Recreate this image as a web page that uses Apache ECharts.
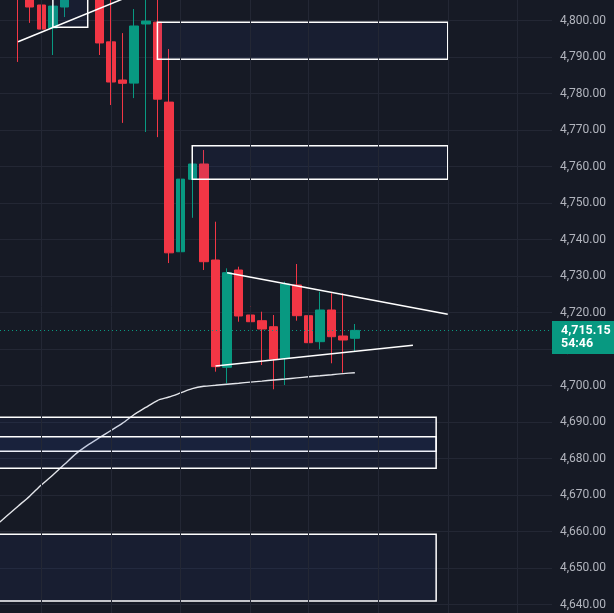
<!DOCTYPE html>
<html><head><meta charset="utf-8">
<script src="https://cdn.jsdelivr.net/npm/echarts@6/dist/echarts.min.js"></script>
<style>html,body{margin:0;padding:0;background:#161a25;overflow:hidden}#c{width:614px;height:613px}</style>
</head><body><div id="c"></div>
<script>
// ---- data (bar slots 0..48; candles occupy 2..31) ----
const slots = ['0','1','2','3','4','5','6','7','8','9','10','11','12','13','14','15','16','17','18','19','20','21','22','23','24','25','26','27','28','29','30','31','32','33','34','35','36','37','38','39','40','41','42','43','44','45','46','47','48'];
const opens  = ['-','-',4809.0,4807.5,4804.3,4798.0,4803.75,'-','-',4807.0,4794.2,4783.75,4782.9,4799.1,4799.6,4777.7,4736.7,4756.55,4760.74,4734.44,4705.04,4731.7,4719.37,4717.81,4716.16,4707.51,4727.59,4719.18,4712.06,4720.74,4713.62,4712.99];
const closes = ['-','-',4806.5,4803.75,4797.7,4804.0,4807.0,'-','-',4793.9,4783.2,4782.85,4798.55,4799.9,4778.5,4736.4,4756.6,4760.74,4733.97,4705.21,4730.96,4719.1,4717.53,4715.53,4707.32,4727.86,4719.18,4711.78,4720.74,4713.42,4712.52,4715.15];
const lows   = ['-','-',4788.7,4799.4,4796.1,4790.6,4801.0,'-','-',4790.6,4776.9,4772.0,4778.8,4769.5,4768.1,4733.6,4734.4,4746.0,4731.7,4703.84,4700.66,4717.53,4704.77,4705.67,4699.02,4700.19,4717.81,4705.67,4709.98,4706.14,4703.57,4709.32];
const highs  = ['-','-',4811.0,4809.0,4806.5,4804.5,4808.0,'-','-',4808.0,4807.0,4796.6,4803.2,4807.0,4807.0,4792.25,4763.5,4761.0,4764.57,4744.93,4732.16,4732.6,4731.5,4720.27,4719.37,4728.49,4733.34,4720.46,4725.75,4725.31,4725.31,4716.9];
const maLine = [4661.42,4664.25,4666.99,4669.73,4672.8,4675.53,4678.46,4681.4,4683.72,4685.75,4687.72,4689.73,4692.11,4694.05,4695.94,4696.9,4698.03,4699.18,4699.84,4700.11,4700.41,4700.69,4700.99,4701.26,4701.56,4701.84,4702.14,4702.44,4702.71,4703.01,4703.32,4703.56];
const lastPrice = 4715.15;
const timeLeft = '54:46';
const priceTicks = {min: 4630, max: 4810, step: 10};
// drawings: [slotA, priceA, slotB, priceB]
const trendLines = [[2,4794.25,12,4807.23],[20,4730.96,39,4719.56],[19,4705.4,36,4711.07]];
const zones = [[14,4799.56,39,4789.42],[5,4812.0,8,4798.19],[17,4765.75,39,4756.55],[0,4691.34,38,4682.03],[0,4686.03,38,4677.37],[0,4659.29,38,4641.01]];
const timeGridSlots = [4,10,16,22,27,33,39,45];

// ---- chart ----
const fmt = v => v.toLocaleString('en-US',{minimumFractionDigits:2, maximumFractionDigits:2});
const candles = opens.map((o,i)=> o==='-' ? '-' : [o, closes[i], lows[i], highs[i]]);
const chart = echarts.init(document.getElementById('c'), null, {renderer:'canvas'});
const UP = '#089981', DN = '#F23645', GRID = '#232734';
const option = {
  backgroundColor: '#161a25',
  animation: false,
  grid: [
    {left: 0, width: 552, top: -15.8, height: 657, outerBoundsMode:'none', containLabel:false},
    {left: -11.0, width: 569.1, top: -15.8, height: 657, outerBoundsMode:'none', containLabel:false}
  ],
  xAxis: [
    {type:'category', gridIndex:0, data: slots, show:false},
    {type:'category', gridIndex:1, data: slots, show:false}
  ],
  yAxis: [
    {type:'value', gridIndex:0, position:'right', min: priceTicks.min, max: priceTicks.max, interval: priceTicks.step,
     axisLine:{show:false}, axisTick:{show:false},
     splitLine:{show:true, lineStyle:{color:GRID, width:1}},
     axisLabel:{show:true, margin:8, color:'#b2b5be', fontSize:12, fontFamily:'Roboto', formatter: v=>fmt(v)}},
    {type:'value', gridIndex:1, min: priceTicks.min, max: priceTicks.max, show:false, splitLine:{show:false}}
  ],
  series: [
    {type:'line', xAxisIndex:1, yAxisIndex:1, data: [], silent:true, z:1,
     markLine:{silent:true, symbol:'none', animation:false, label:{show:false},
       lineStyle:{color:GRID, width:1, type:'solid'},
       data: timeGridSlots.map(s=>({xAxis: s}))}},
    {type:'candlestick', xAxisIndex:1, yAxisIndex:1, data: candles, barWidth: 9, z:2,
     itemStyle:{color:UP, color0:DN, borderColor:UP, borderColor0:DN, borderWidth:1}},
    {type:'line', xAxisIndex:1, yAxisIndex:1, data: maLine, smooth:0.25, symbol:'none', z:3,
     lineStyle:{color:'#e3e5ea', width:1.4},
     markArea:{silent:true, z:4, itemStyle:{color:'rgba(45,85,190,0.085)', borderColor:'#ffffff', borderWidth:1.5},
       data: zones.map(z=>[{coord:[z[0], z[1]]},{coord:[z[2], z[3]]}])},
     markLine:{silent:true, symbol:'none', z:5, label:{show:false},
       lineStyle:{color:'#ffffff', width:1.5, type:'solid'},
       data: trendLines.map(t=>[{coord:[t[0], t[1]]},{coord:[t[2], t[3]]}])}},
    {type:'line', xAxisIndex:0, yAxisIndex:0, data: [], silent:true, z:6,
     markLine:{silent:true, symbol:'none', z:6,
       lineStyle:{color:UP, width:1, type:[1,3]},
       label:{show:true, position:'end', distance:0, offset:[0,7],
         formatter: ()=> fmt(lastPrice)+'\n'+timeLeft,
         color:'#ffffff', fontWeight:'bold', fontSize:12.5, fontFamily:'Roboto', lineHeight:13,
         backgroundColor:UP, padding:[3,9,4,9], align:'left'},
       data:[{yAxis: lastPrice}]}}
  ]
};
chart.setOption(option);
</script></body></html>
